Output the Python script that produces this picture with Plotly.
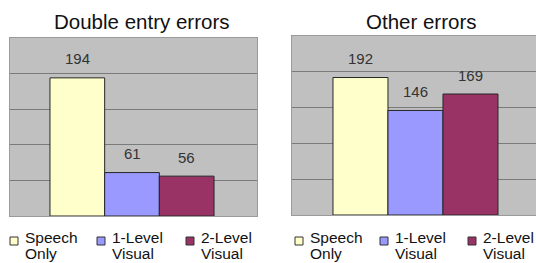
import plotly.graph_objects as go

# ---- data ----
series_names = ["Speech Only", "1-Level Visual", "2-Level Visual"]
legend_lines = [["Speech", "Only"], ["1-Level", "Visual"], ["2-Level", "Visual"]]
series_colors = ["#FFFFCC", "#9999FF", "#993366"]
panel_titles = ["Double entry errors", "Other errors"]
double_entry_errors = [194, 61, 56]
other_errors = [192, 146, 169]
bar_slots = [0, 1, 2]

W, H = 536, 263


def px(x):
    return x / W


def py(y):
    return 1 - y / H


fig = go.Figure()

panel_values = [double_entry_errors, other_errors]
axes = [("x", "y"), ("x2", "y2")]
for p, vals in enumerate(panel_values):
    xa, ya = axes[p]
    for i, name in enumerate(series_names):
        fig.add_trace(go.Bar(
            x=[bar_slots[i]], y=[vals[i]], width=1, name=name,
            marker=dict(color=series_colors[i], line=dict(color="#262626", width=1)),
            xaxis=xa, yaxis=ya, showlegend=False, hoverinfo="skip",
        ))

# plot area geometry (pixels)
left_box = (10, 257, 38, 216)
right_box = (292, 536, 36, 215)

common_y = dict(range=[0, 250], dtick=50, showgrid=True, gridcolor="#7a7a7a", gridwidth=1,
                showticklabels=False, ticks="", zeroline=False, showline=True,
                linecolor="#9a9a9a", linewidth=1, mirror=True, fixedrange=True)
common_x = dict(showgrid=False, showticklabels=False, ticks="", zeroline=False,
                showline=True, linecolor="#9a9a9a", linewidth=1, mirror=True, fixedrange=True)

fig.update_layout(
    width=W, height=H, margin=dict(l=0, r=0, t=0, b=0),
    paper_bgcolor="white", plot_bgcolor="#C0C0C0",
    barmode="overlay", showlegend=False,
    font=dict(family="Liberation Sans, Arial, sans-serif", color="#111"),
    xaxis=dict(domain=[px(left_box[0]), px(left_box[1])], range=[-1.231, 3.286], anchor="y", **common_x),
    yaxis=dict(domain=[py(left_box[3]), py(left_box[2])], anchor="x", **common_y),
    xaxis2=dict(domain=[px(right_box[0]), px(right_box[1])], range=[-1.245, 3.191], anchor="y2", **common_x),
    yaxis2=dict(domain=[py(right_box[3]), py(right_box[2])], anchor="x2", **common_y),
)

annotations = []
# value labels
for p, vals in enumerate(panel_values):
    xa, ya = axes[p]
    for i, v in enumerate(vals):
        annotations.append(dict(
            x=bar_slots[i], y=v, xref=xa, yref=ya, text=str(v), showarrow=False,
            yshift=19, xanchor="center", yanchor="middle",
            font=dict(size=15, color="#333333"),
        ))

# titles
title_centers = [141, 421]
for p, t in enumerate(panel_titles):
    annotations.append(dict(
        x=px(title_centers[p]), y=py(21), xref="paper", yref="paper", text=t,
        showarrow=False, xanchor="center", yanchor="middle",
        font=dict(size=20.5, color="#111111"),
    ))

# legends (one per panel)
legend_square_x = [[10, 97, 186], [295, 380, 468]]
shapes = []
for p in range(2):
    for i in range(3):
        sx = legend_square_x[p][i]
        shapes.append(dict(
            type="rect", xref="paper", yref="paper",
            x0=px(sx), x1=px(sx + 8), y0=py(245), y1=py(237),
            fillcolor=series_colors[i], line=dict(color="#333333", width=1),
        ))
        for li, line in enumerate(legend_lines[i]):
            annotations.append(dict(
                x=px(sx + 14), y=py(237.5 + li * 16), xref="paper", yref="paper",
                text=line, showarrow=False, xanchor="left", yanchor="middle",
                borderpad=0, font=dict(size=15.5, color="#111111"),
            ))

fig.update_layout(annotations=annotations, shapes=shapes)
fig.write_html(
    "out.html",
    config={"displayModeBar": False},
    post_script="document.body.style.margin='0px';document.body.style.overflow='hidden';",
)
